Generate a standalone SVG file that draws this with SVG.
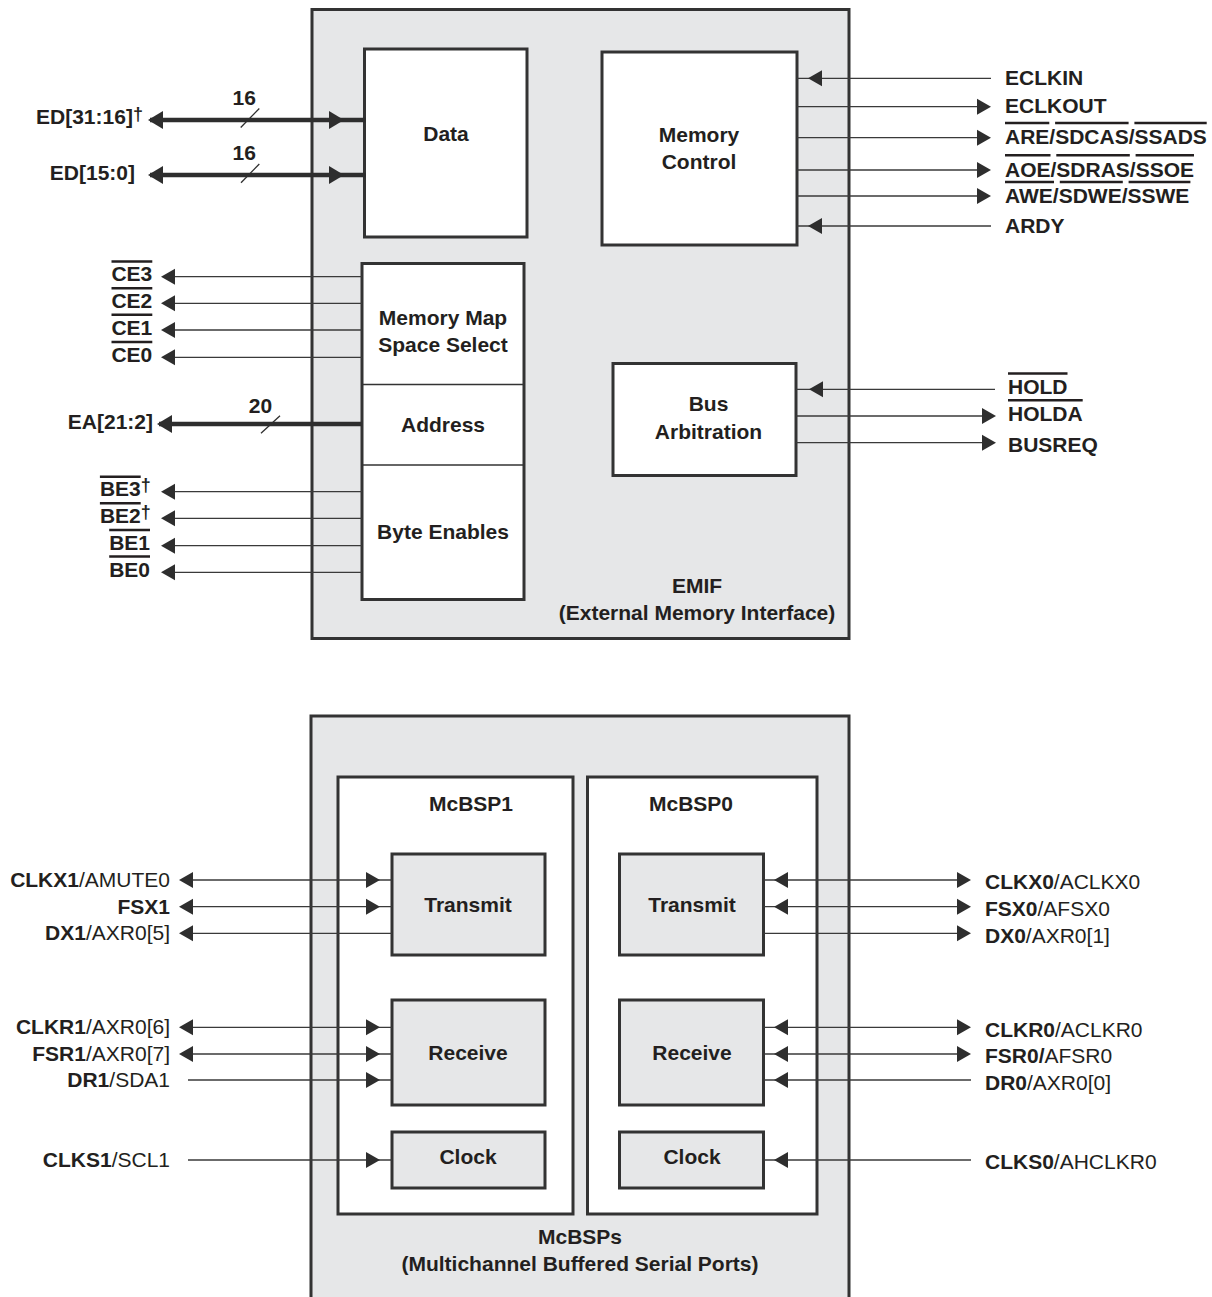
<svg xmlns="http://www.w3.org/2000/svg" xmlns:xlink="http://www.w3.org/1999/xlink" width="1212" height="1297" viewBox="0 0 1212 1297">
<style>
.box{fill:#fff;stroke:#333;stroke-width:3}
.gbox{fill:#e6e7e8;stroke:#333;stroke-width:3}
.div{stroke:#333;stroke-width:1.5}
.w{stroke:#3a3a3a;stroke-width:1.3;fill:none}
.bus{stroke:#2e2e2e;stroke-width:4.5;fill:none}
.tick{stroke:#2e2e2e;stroke-width:1.3}
.ah{fill:#2e2e2e}
text{font-family:"Liberation Sans",Arial,Helvetica,sans-serif;font-size:21px;font-weight:bold;fill:#231f20}
.r{font-weight:normal}
.c{text-anchor:middle}
.e{text-anchor:end}
.dg{font-size:18px}
.ol{stroke:#231f20;stroke-width:2.5}
</style>
<defs>
<path id="al" class="ah" d="M0,0 L14,-8 L14,8 Z"/>
<path id="ar" class="ah" d="M0,0 L-14,-8 L-14,8 Z"/>
<path id="alB" class="ah" d="M0,0 L15,-9 L15,9 Z"/>
<path id="arB" class="ah" d="M0,0 L-15,-9 L-15,9 Z"/>
</defs>

<g id="emif">
<rect class="gbox" x="312" y="9.5" width="537" height="629"/>
<text class="c" x="697" y="593">EMIF</text>
<text class="c" x="697" y="619.5">(External Memory Interface)</text>
</g>

<g id="data">
<rect class="box" x="364.5" y="49" width="162.5" height="188"/>
<text class="c" x="446" y="141">Data</text>
</g>

<g id="memctrl">
<rect class="box" x="602" y="52" width="195" height="193"/>
<text class="c" x="699" y="142">Memory</text>
<text class="c" x="699" y="168.5">Control</text>
</g>

<g id="memmap">
<rect class="box" x="362" y="263.5" width="162" height="336"/>
<line class="div" x1="362" y1="384.5" x2="524" y2="384.5"/>
<line class="div" x1="362" y1="465" x2="524" y2="465"/>
<text class="c" x="443" y="325">Memory Map</text>
<text class="c" x="443" y="352">Space Select</text>
<text class="c" x="443" y="432">Address</text>
<text class="c" x="443" y="538.5">Byte Enables</text>
</g>

<g id="busarb">
<rect class="box" x="613" y="363.5" width="183" height="112"/>
<text class="c" x="708.5" y="411">Bus</text>
<text class="c" x="708.5" y="438.5">Arbitration</text>
</g>

<g id="mcbsps">
<rect class="gbox" x="311" y="716" width="538" height="620"/>
<text class="c" x="580" y="1243.5">McBSPs</text>
<text class="c" x="580" y="1271">(Multichannel Buffered Serial Ports)</text>
</g>

<g id="mcbsp1">
<rect class="box" x="338" y="777" width="235" height="437"/>
<text class="c" x="471" y="811">McBSP1</text>
</g>
<g id="mcbsp0">
<rect class="box" x="587.5" y="777" width="229.5" height="437"/>
<text class="c" x="691" y="811">McBSP0</text>
</g>

<g id="transmit1"><rect class="gbox" x="392" y="854" width="153" height="101"/><text class="c" x="468" y="912">Transmit</text></g>
<g id="receive1"><rect class="gbox" x="392" y="1000" width="153" height="105"/><text class="c" x="468" y="1060">Receive</text></g>
<g id="clock1"><rect class="gbox" x="392" y="1132" width="153" height="56"/><text class="c" x="468" y="1163.5">Clock</text></g>
<g id="transmit0"><rect class="gbox" x="619.5" y="854" width="144" height="101"/><text class="c" x="692" y="912">Transmit</text></g>
<g id="receive0"><rect class="gbox" x="619.5" y="1000" width="144" height="105"/><text class="c" x="692" y="1060">Receive</text></g>
<g id="clock0"><rect class="gbox" x="619.5" y="1132" width="144" height="56"/><text class="c" x="692" y="1163.5">Clock</text></g>

<g id="connectors">
<line class="bus" x1="150" y1="120" x2="366" y2="120"/>
<use xlink:href="#alB" x="148" y="120"/><use xlink:href="#arB" x="344" y="120"/>
<line class="tick" x1="240.7" y1="127.5" x2="259.3" y2="108.5"/>
<line class="bus" x1="150" y1="175" x2="366" y2="175"/>
<use xlink:href="#alB" x="148" y="175"/><use xlink:href="#arB" x="344" y="175"/>
<line class="tick" x1="241" y1="182.7" x2="259.3" y2="164"/>
<line class="bus" x1="159" y1="424" x2="362" y2="424"/>
<use xlink:href="#alB" x="157" y="424"/>
<line class="tick" x1="261" y1="433.3" x2="280" y2="415.7"/>
<line class="w" x1="165" y1="276.7" x2="362" y2="276.7"/><use xlink:href="#al" x="161" y="276.7"/>
<line class="w" x1="165" y1="303.3" x2="362" y2="303.3"/><use xlink:href="#al" x="161" y="303.3"/>
<line class="w" x1="165" y1="330" x2="362" y2="330"/><use xlink:href="#al" x="161" y="330"/>
<line class="w" x1="165" y1="357.3" x2="362" y2="357.3"/><use xlink:href="#al" x="161" y="357.3"/>
<line class="w" x1="165" y1="491.7" x2="362" y2="491.7"/><use xlink:href="#al" x="161" y="491.7"/>
<line class="w" x1="165" y1="518.3" x2="362" y2="518.3"/><use xlink:href="#al" x="161" y="518.3"/>
<line class="w" x1="165" y1="545.7" x2="362" y2="545.7"/><use xlink:href="#al" x="161" y="545.7"/>
<line class="w" x1="165" y1="572.3" x2="362" y2="572.3"/><use xlink:href="#al" x="161" y="572.3"/>
<line class="w" x1="797" y1="78.3" x2="991" y2="78.3"/><use xlink:href="#al" x="808" y="78.3"/>
<line class="w" x1="797" y1="106.7" x2="988" y2="106.7"/><use xlink:href="#ar" x="991" y="106.7"/>
<line class="w" x1="797" y1="137.7" x2="988" y2="137.7"/><use xlink:href="#ar" x="991" y="137.7"/>
<line class="w" x1="797" y1="170" x2="988" y2="170"/><use xlink:href="#ar" x="991" y="170"/>
<line class="w" x1="797" y1="196" x2="988" y2="196"/><use xlink:href="#ar" x="991" y="196"/>
<line class="w" x1="797" y1="226" x2="991" y2="226"/><use xlink:href="#al" x="808" y="226"/>
<line class="w" x1="796" y1="389.3" x2="995" y2="389.3"/><use xlink:href="#al" x="809" y="389.3"/>
<line class="w" x1="796" y1="416" x2="993" y2="416"/><use xlink:href="#ar" x="996" y="416"/>
<line class="w" x1="796" y1="442.7" x2="993" y2="442.7"/><use xlink:href="#ar" x="996" y="442.7"/>
<line class="w" x1="183" y1="880" x2="392" y2="880"/><use xlink:href="#al" x="179" y="880"/><use xlink:href="#ar" x="380" y="880"/>
<line class="w" x1="183" y1="906.7" x2="392" y2="906.7"/><use xlink:href="#al" x="179" y="906.7"/><use xlink:href="#ar" x="380" y="906.7"/>
<line class="w" x1="183" y1="933.3" x2="392" y2="933.3"/><use xlink:href="#al" x="179" y="933.3"/>
<line class="w" x1="183" y1="1027.3" x2="392" y2="1027.3"/><use xlink:href="#al" x="179" y="1027.3"/><use xlink:href="#ar" x="380" y="1027.3"/>
<line class="w" x1="183" y1="1054" x2="392" y2="1054"/><use xlink:href="#al" x="179" y="1054"/><use xlink:href="#ar" x="380" y="1054"/>
<line class="w" x1="188" y1="1080" x2="392" y2="1080"/><use xlink:href="#ar" x="380" y="1080"/>
<line class="w" x1="188" y1="1160" x2="392" y2="1160"/><use xlink:href="#ar" x="380" y="1160"/>
<line class="w" x1="763.5" y1="880" x2="968" y2="880"/><use xlink:href="#al" x="774" y="880"/><use xlink:href="#ar" x="971" y="880"/>
<line class="w" x1="763.5" y1="906.7" x2="968" y2="906.7"/><use xlink:href="#al" x="774" y="906.7"/><use xlink:href="#ar" x="971" y="906.7"/>
<line class="w" x1="763.5" y1="933.3" x2="968" y2="933.3"/><use xlink:href="#ar" x="971" y="933.3"/>
<line class="w" x1="763.5" y1="1027.3" x2="968" y2="1027.3"/><use xlink:href="#al" x="774" y="1027.3"/><use xlink:href="#ar" x="971" y="1027.3"/>
<line class="w" x1="763.5" y1="1054" x2="968" y2="1054"/><use xlink:href="#al" x="774" y="1054"/><use xlink:href="#ar" x="971" y="1054"/>
<line class="w" x1="763.5" y1="1080" x2="971" y2="1080"/><use xlink:href="#al" x="774" y="1080"/>
<line class="w" x1="763.5" y1="1160" x2="971" y2="1160"/><use xlink:href="#al" x="774" y="1160"/>
</g>

<g id="labels">
<text x="36" y="124.3">ED[31:16]<tspan class="dg" dy="-4">†</tspan></text>
<text class="e" x="135" y="180">ED[15:0]</text>
<text class="c" x="244.3" y="105">16</text>
<text class="c" x="244.3" y="160">16</text>
<text class="e" x="153" y="428.5">EA[21:2]</text>
<text class="c" x="260.5" y="413.3">20</text>
<text class="e" x="152.3" y="281.2">CE3</text>
<text class="e" x="152.3" y="307.8">CE2</text>
<text class="e" x="152.3" y="334.5">CE1</text>
<text class="e" x="152.3" y="361.8">CE0</text>
<text x="99.9" y="496.2">BE3<tspan class="dg" dy="-5">†</tspan></text>
<text x="99.9" y="522.8">BE2<tspan class="dg" dy="-5">†</tspan></text>
<text class="e" x="150" y="550.2">BE1</text>
<text class="e" x="150" y="576.8">BE0</text>
<text x="1005" y="85">ECLKIN</text>
<text x="1005" y="113.3">ECLKOUT</text>
<text x="1005" y="144.3">ARE/SDCAS/SSADS</text>
<text x="1005" y="176.7">AOE/SDRAS/SSOE</text>
<text x="1005" y="202.7">AWE/SDWE/SSWE</text>
<text x="1005" y="232.5">ARDY</text>
<text x="1008" y="394">HOLD</text>
<text x="1008" y="421">HOLDA</text>
<text x="1008" y="451.5">BUSREQ</text>
<text class="e" x="170" y="887">CLKX1<tspan class="r">/AMUTE0</tspan></text>
<text class="e" x="170" y="913.7">FSX1</text>
<text class="e" x="170" y="940.3">DX1<tspan class="r">/AXR0[5]</tspan></text>
<text class="e" x="170" y="1034.3">CLKR1<tspan class="r">/AXR0[6]</tspan></text>
<text class="e" x="170" y="1061">FSR1<tspan class="r">/AXR0[7]</tspan></text>
<text class="e" x="170" y="1087">DR1<tspan class="r">/SDA1</tspan></text>
<text class="e" x="170" y="1167">CLKS1<tspan class="r">/SCL1</tspan></text>
<text x="985" y="889">CLKX0<tspan class="r">/ACLKX0</tspan></text>
<text x="985" y="916">FSX0<tspan class="r">/AFSX0</tspan></text>
<text x="985" y="942.5">DX0<tspan class="r">/AXR0[1]</tspan></text>
<text x="985" y="1036.5">CLKR0<tspan class="r">/ACLKR0</tspan></text>
<text x="985" y="1063">FSR0/<tspan class="r">AFSR0</tspan></text>
<text x="985" y="1089.5">DR0<tspan class="r">/AXR0[0]</tspan></text>
<text x="985" y="1168.5">CLKS0<tspan class="r">/AHCLKR0</tspan></text>
</g>

<g id="overlines">
<line class="ol" x1="111.5" y1="261.5" x2="152.3" y2="261.5"/>
<line class="ol" x1="111.5" y1="288.2" x2="152.3" y2="288.2"/>
<line class="ol" x1="111.5" y1="314.8" x2="152.3" y2="314.8"/>
<line class="ol" x1="111.5" y1="342.1" x2="152.3" y2="342.1"/>
<line class="ol" x1="99.9" y1="476.7" x2="140.7" y2="476.7"/>
<line class="ol" x1="99.9" y1="503.3" x2="140.7" y2="503.3"/>
<line class="ol" x1="109.2" y1="530" x2="150" y2="530"/>
<line class="ol" x1="109.2" y1="556.5" x2="150" y2="556.5"/>
<line class="ol" x1="1005" y1="123" x2="1049.3" y2="123"/>
<line class="ol" x1="1055.1" y1="123" x2="1128.6" y2="123"/>
<line class="ol" x1="1134.4" y1="123" x2="1206.7" y2="123"/>
<line class="ol" x1="1005" y1="155.3" x2="1050.5" y2="155.3"/>
<line class="ol" x1="1056.3" y1="155.3" x2="1129.8" y2="155.3"/>
<line class="ol" x1="1135.6" y1="155.3" x2="1194" y2="155.3"/>
<line class="ol" x1="1005" y1="182" x2="1054" y2="182"/>
<line class="ol" x1="1059.8" y1="182" x2="1122.8" y2="182"/>
<line class="ol" x1="1128.6" y1="182" x2="1190.4" y2="182"/>
<line class="ol" x1="1008" y1="373.5" x2="1067.5" y2="373.5"/>
<line class="ol" x1="1008" y1="400.3" x2="1082.7" y2="400.3"/>
</g>
</svg>
